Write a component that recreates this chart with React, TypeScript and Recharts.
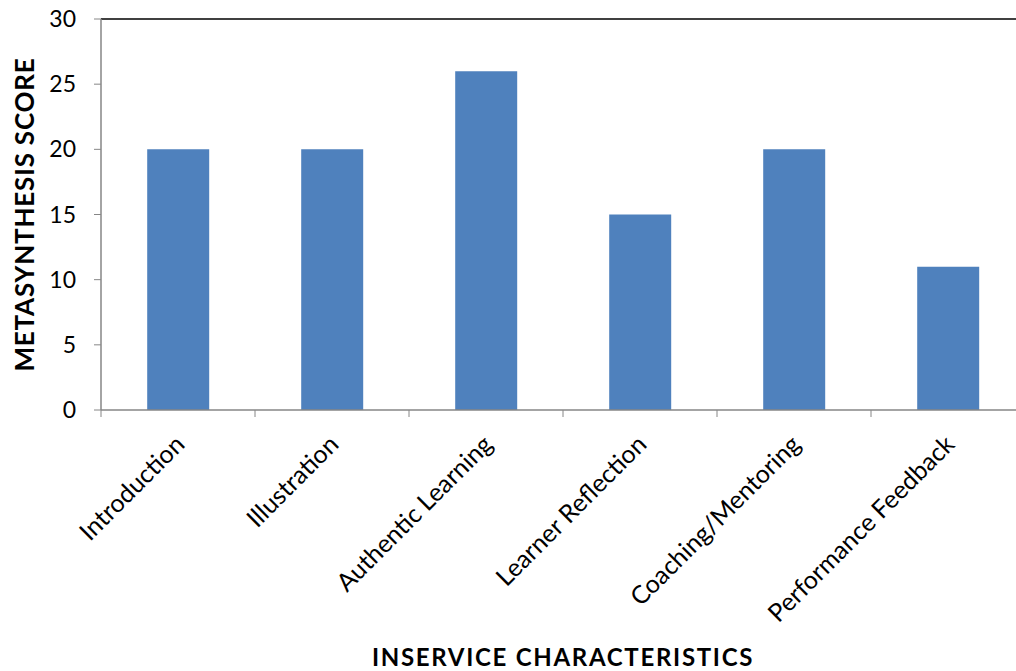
import * as React from 'react'
import { Bar, BarChart, ReferenceLine, XAxis, YAxis } from 'recharts'

const categories = [
  'Introduction',
  'Illustration',
  'Authentic Learning',
  'Learner Reflection',
  'Coaching/Mentoring',
  'Performance Feedback',
]
const scores = [20, 20, 26, 15, 20, 11]
const yTicks = [0, 5, 10, 15, 20, 25, 30]

const data = categories.map((name, i) => ({ name, score: scores[i] }))

const CHART_W = 1040
const CHART_H = 671
const MARGIN = { top: 19, right: 15, left: 0, bottom: 0 }
const Y_AXIS_W = 101
const PLOT_W = CHART_W - MARGIN.left - MARGIN.right - Y_AXIS_W
const BAND = PLOT_W / categories.length

const AXIS_GRAY = '#868686'
const FONT = 'Lato, "Open Sans", sans-serif'

const CategoryTick = (props: any) => {
  const { x, y, payload, index } = props
  const left = x - BAND / 2
  const ax = x + 8
  const ay = y + 36
  return (
    <g>
      <line x1={left} y1={y} x2={left} y2={y + 7} stroke={AXIS_GRAY} />
      {index === categories.length - 1 && (
        <line x1={x + BAND / 2} y1={y} x2={x + BAND / 2} y2={y + 7} stroke={AXIS_GRAY} />
      )}
      <text
        x={ax}
        y={ay}
        textAnchor="end"
        transform={`rotate(-45, ${ax}, ${ay})`}
        fontSize={25}
        fill="#000"
      >
        {payload.value}
      </text>
    </g>
  )
}

export default function App() {
  return (
    <div
      style={{
        position: 'fixed',
        left: 0,
        top: 0,
        width: 1016,
        height: 671,
        overflow: 'hidden',
        background: '#fff',
        fontFamily: FONT,
      }}
    >
      <BarChart
        width={CHART_W}
        height={CHART_H}
        data={data}
        margin={MARGIN}
        barCategoryGap="30%"
      >
        <XAxis
          dataKey="name"
          interval={0}
          tickSize={0}
          tickMargin={0}
          tickLine={false}
          axisLine={{ stroke: AXIS_GRAY, strokeWidth: 1.5 }}
          tick={<CategoryTick />}
          height={CHART_H - 410}
          label={{
            value: 'INSERVICE CHARACTERISTICS',
            position: 'insideBottom',
            offset: 5,
            fontSize: 24,
            fontWeight: 'bold',
            letterSpacing: 1.7,
            fill: '#000',
          }}
        />
        <YAxis
          width={Y_AXIS_W}
          domain={[0, 30]}
          ticks={yTicks}
          interval={0}
          tickSize={7}
          tickMargin={18}
          tickLine={{ stroke: AXIS_GRAY }}
          axisLine={{ stroke: AXIS_GRAY, strokeWidth: 1.5 }}
          tick={{ fontSize: 23, fill: '#000' }}
          label={{
            value: 'METASYNTHESIS SCORE',
            angle: -90,
            position: 'center',
            dx: -26,
            fontSize: 26,
            fontWeight: 'bold',
            letterSpacing: 0.8,
            fill: '#000',
          }}
        />
        <ReferenceLine y={30} stroke="#000" strokeWidth={1.5} />
        <Bar dataKey="score" fill="#4F81BD" isAnimationActive={false} />
      </BarChart>
    </div>
  )
}
